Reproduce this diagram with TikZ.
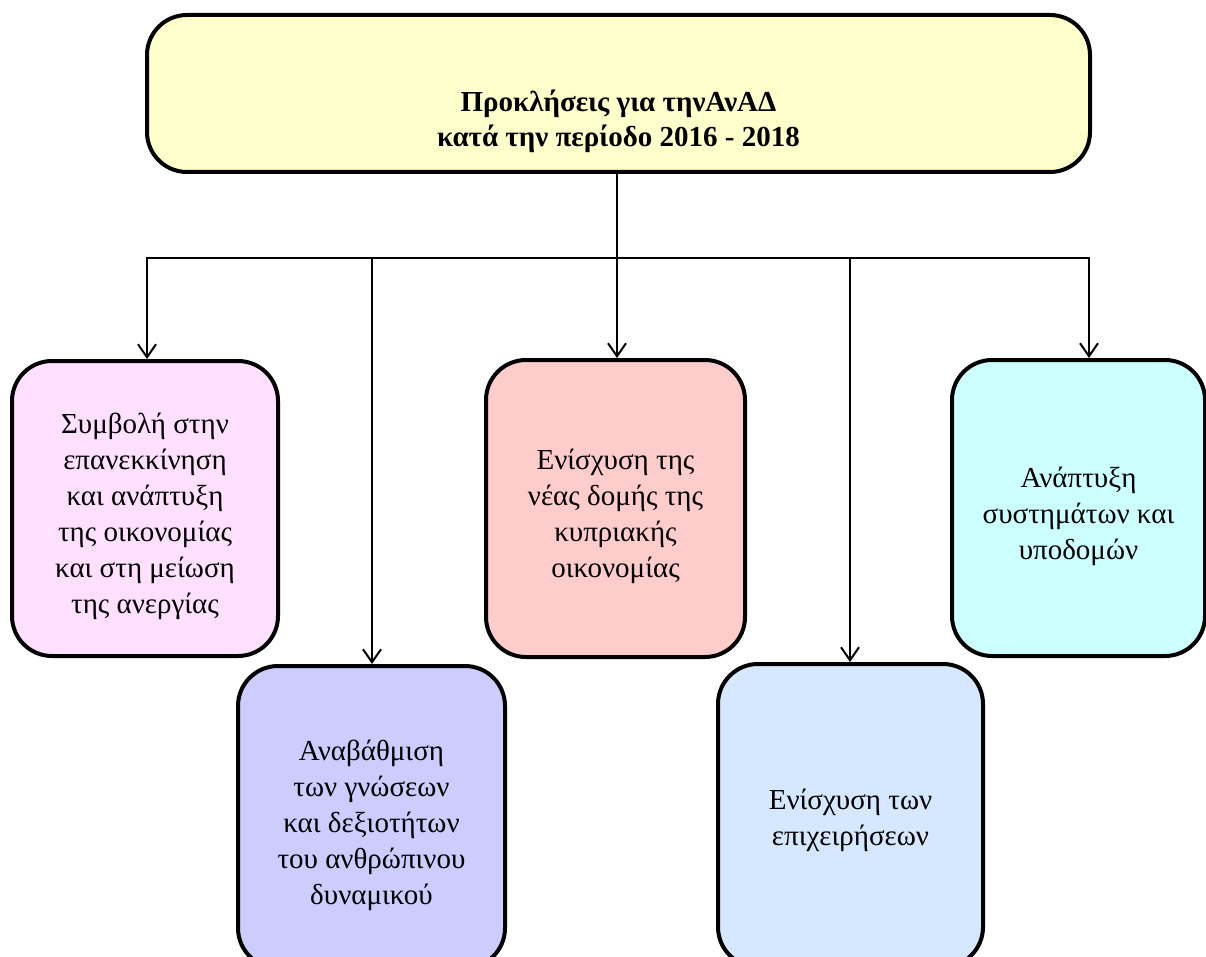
\documentclass[tikz,border=0pt]{standalone}
\usepackage{fontspec}
\setmainfont{Liberation Serif}
\usetikzlibrary{arrows.meta}
\definecolor{cTop}{HTML}{FFFFCC}
\definecolor{cPink}{HTML}{FFE0FF}
\definecolor{cLav}{HTML}{CCCCFF}
\definecolor{cRose}{HTML}{FFCCCC}
\definecolor{cCyan}{HTML}{CCFFFF}
\definecolor{cSky}{HTML}{D5E8FF}
\tikzset{
  boxstyle/.style={draw=black, line width=4pt, rounded corners=40pt, inner sep=0pt},
  boxtext/.style={align=center, inner sep=0pt, font=\fontsize{29}{36}\selectfont, yshift=-8pt},
  conn/.style={draw=black, line width=2pt},
  arr/.style={conn, -{Straight Barb[length=13pt,width=18pt,line width=2pt]}},
}
\begin{document}
\begin{tikzpicture}[x=1pt,y=-1pt]
\useasboundingbox (0,0) rectangle (1206,957);
\node[boxstyle, fill=cTop, minimum width=943pt, minimum height=157pt] (top) at (618.5,93.5) {};
\node[font=\bfseries\fontsize{29}{35}\selectfont, align=center] (title) at (618.5,121)
  {Προκλήσεις για τηνΑνΑΔ\\κατά την περίοδο 2016 - 2018};
\node[boxstyle, fill=cPink, minimum width=266pt, minimum height=295pt] (b1) at (145,508.5) {};
\node[boxtext] (t1) at (b1.center)
  {Συμβολή στην\\επανεκκίνηση\\και ανάπτυξη\\της οικονομίας\\και στη μείωση\\της ανεργίας};
\node[boxstyle, fill=cLav, minimum width=267pt, minimum height=302pt] (b2) at (371.5,817) {};
\node[boxtext] (t2) at (b2.center)
  {Αναβάθμιση\\των γνώσεων\\και δεξιοτήτων\\του ανθρώπινου\\δυναμικού};
\node[boxstyle, fill=cRose, minimum width=259pt, minimum height=297pt] (b3) at (615.5,508.5) {};
\node[boxtext] (t3) at (b3.center)
  {Ενίσχυση της\\νέας δομής της\\κυπριακής\\οικονομίας};
\node[boxstyle, fill=cCyan, minimum width=253pt, minimum height=296pt] (b4) at (1078.5,508) {};
\node[boxtext] (t4) at (b4.center)
  {Ανάπτυξη\\συστημάτων και\\υποδομών};
\node[boxstyle, fill=cSky, minimum width=265pt, minimum height=303pt] (b5) at (850.5,815.5) {};
\node[boxtext, yshift=3pt] (t5) at (b5.center)
  {Ενίσχυση των\\επιχειρήσεων};
\coordinate (j) at (617,258);
\coordinate (a1) at (147,258);
\coordinate (a2) at (372,258);
\coordinate (a3) at (617,258);
\coordinate (a5) at (850,258);
\coordinate (a4) at (1089,258);
\draw[conn] (top.south -| j) -- (j);
\draw[conn, line cap=rect] (a1) -- (a4);
\draw[arr] (a1) -- (a1 |- b1.north);
\draw[arr] (a2) -- (a2 |- b2.north);
\draw[arr] (a3) -- (a3 |- b3.north);
\draw[arr] (a5) -- (a5 |- b5.north);
\draw[arr] (a4) -- (a4 |- b4.north);
\end{tikzpicture}
\end{document}
